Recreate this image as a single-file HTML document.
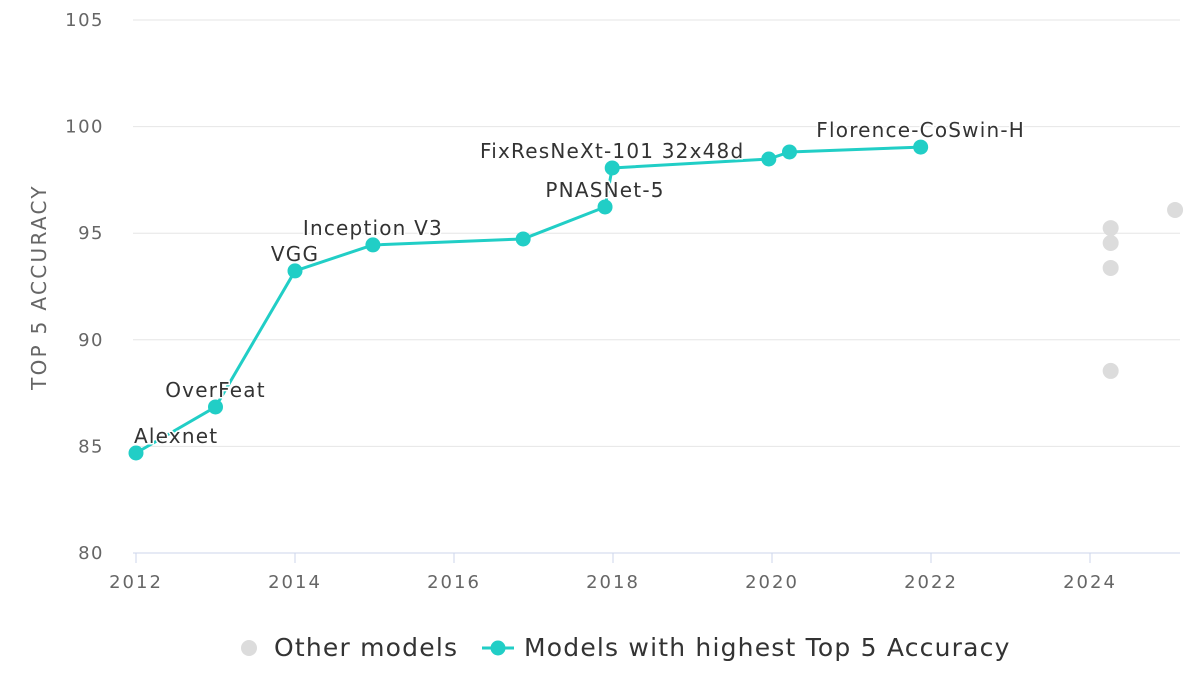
<!DOCTYPE html>
<html><head><meta charset="utf-8"><style>
html,body{margin:0;padding:0;background:#fff;width:1200px;height:700px;overflow:hidden}
svg{font-family:"DejaVu Sans","Liberation Sans",sans-serif}
</style></head><body>
<svg id="chart" width="1200" height="700" xmlns="http://www.w3.org/2000/svg"></svg>
<script>
const yTicks=[80,85,90,95,100,105];
const xTicks=[2012,2014,2016,2018,2020,2022,2024];
const bestYears=[2012.0,2013.0,2014.0,2014.98,2016.87,2017.9,2017.99,2019.96,2020.22,2021.87];
const bestAcc=[84.69,86.85,93.23,94.45,94.73,96.23,98.06,98.48,98.81,99.04];
const bestLabels=["Alexnet","OverFeat","VGG","Inception V3","","PNASNet-5","FixResNeXt-101 32x48d","","","Florence-CoSwin-H"];
const otherYears=[2024.26,2024.26,2024.26,2024.26,2025.07];
const otherAcc=[95.24,94.54,93.37,88.54,96.09];
const NS="http://www.w3.org/2000/svg";
const svg=document.getElementById('chart');
const x=v=>136+(v-2012)*79.5;
const y=v=>553-(v-80)*21.32;
function mk(t,a,p){const e=document.createElementNS(NS,t);for(const k in a)e.setAttribute(k,a[k]);(p||svg).appendChild(e);return e;}
yTicks.forEach(t=>{
 const l=mk('line',{x1:133,x2:1180,y1:y(t),y2:y(t),stroke:t===80?'#ccd6eb':'#e6e6e6','stroke-width':1});
 
 
 const tx=mk('text',{x:104,y:y(t)+6,'text-anchor':'end','font-size':18,'letter-spacing':1.5,fill:'#666'});
 tx.textContent=t;
 
 
});
xTicks.forEach(t=>{
 const l=mk('line',{x1:x(t),x2:x(t),y1:553,y2:563,stroke:'#ccd6eb'});
 
 
 const tx=mk('text',{x:x(t),y:588,'text-anchor':'middle','font-size':18,'letter-spacing':2,fill:'#666'});
 tx.textContent=t;
 
 
});
const yt=mk('text',{x:46,y:287,'text-anchor':'middle','font-size':20,'letter-spacing':2.3,fill:'#666',transform:'rotate(-90 46 287)'});
yt.textContent='TOP 5 ACCURACY';


otherYears.forEach((v,i)=>{
 const c=mk('circle',{cx:x(v),cy:y(otherAcc[i]),r:8,fill:'#dcdcdc'});
 
 
});
const pl=mk('polyline',{points:bestYears.map((v,i)=>x(v)+','+y(bestAcc[i])).join(' '),fill:'none',stroke:'#21cec6','stroke-width':3,'stroke-linejoin':'round'});


bestYears.forEach((v,i)=>{
 const c=mk('circle',{cx:x(v),cy:y(bestAcc[i]),r:7.5,fill:'#21cec6'});
 
 
 if(bestLabels[i]){
  const first=i===0;
  const t=mk('text',{x:first?x(v)-2:x(v),y:y(bestAcc[i])-10,'text-anchor':first?'start':'middle','font-size':20,'letter-spacing':1.2,fill:'#333',stroke:'#fff','stroke-width':3,'paint-order':'stroke'});
  t.textContent=bestLabels[i];
  
  
 }
});
const g=mk('g',{});


const c1=mk('circle',{cx:249,cy:648,r:8,fill:'#dcdcdc'},g);


const t1=mk('text',{x:274,y:656,'font-size':25,'letter-spacing':1.2,fill:'#333'},g);
t1.textContent='Other models';


const l2=mk('line',{x1:482,x2:514,y1:648,y2:648,stroke:'#21cec6','stroke-width':3},g);


const c2=mk('circle',{cx:498,cy:648,r:7.5,fill:'#21cec6'},g);


const t2=mk('text',{x:524,y:656,'font-size':25,'letter-spacing':1.2,fill:'#333'},g);
t2.textContent='Models with highest Top 5 Accuracy';


</script>
</body></html>
